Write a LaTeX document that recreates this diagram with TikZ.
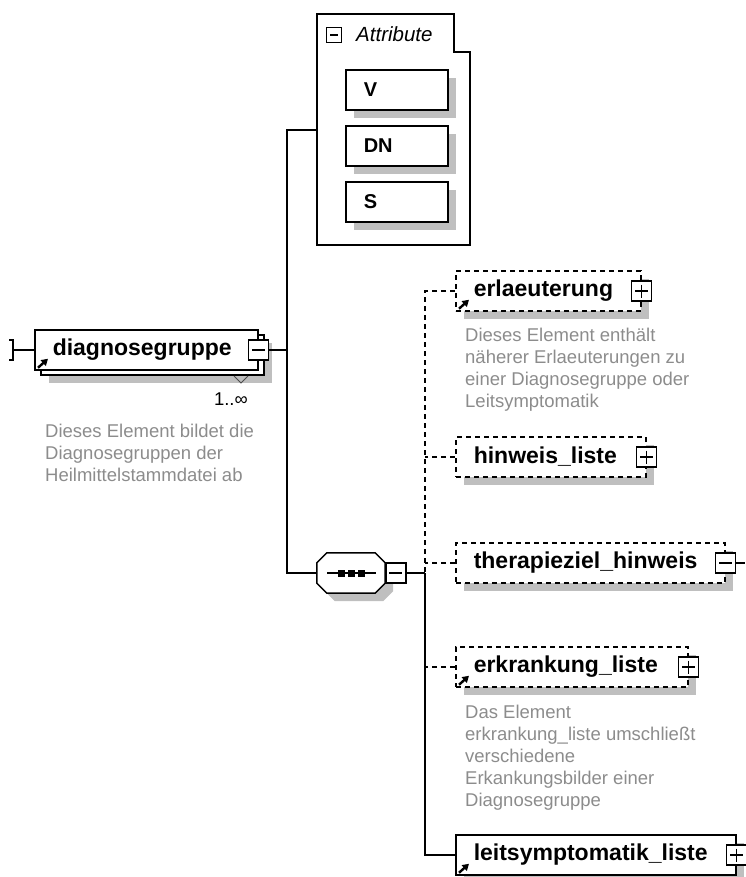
\documentclass[tikz,border=0pt]{standalone}
\usepackage{fontspec}
\setmainfont{Liberation Sans}
\usetikzlibrary{calc,shadows,arrows.meta}
\tikzset{
	elembox/.style={draw, line width=1.5pt, fill=white, minimum height=40pt, inner xsep=18pt, inner ysep=0pt, anchor=west, align=left, text width=#1, font=\fontsize{23}{25}\selectfont\bfseries},
	gshadow/.style={drop shadow={shadow xshift=8pt, shadow yshift=-8pt, fill=black!25, opacity=1}},
	elem/.style={elembox=#1, gshadow},
	optelem/.style={elem=#1, dash pattern=on 5pt off 4pt},
	btn/.style={draw, line width=1.5pt, fill=white, minimum width=20pt, minimum height=20pt, inner sep=0pt},
	minusbtn/.style={btn, path picture={\draw[line width=1.4pt] ([xshift=3.5pt]path picture bounding box.west) -- ([xshift=-3.5pt]path picture bounding box.east);}},
	plusbtn/.style={btn, path picture={\draw[line width=1.4pt] ([xshift=3.5pt]path picture bounding box.west) -- ([xshift=-3.5pt]path picture bounding box.east) ([yshift=-3.5pt]path picture bounding box.north) -- ([yshift=3.5pt]path picture bounding box.south);}},
	descr/.style={anchor=north west, align=left, text=black!45, inner sep=0pt, font=\fontsize{18.5}{22}\selectfont},
	conn/.style={line width=1.5pt},
	optconn/.style={conn, dash pattern=on 5pt off 4pt}
}
\def\refarrow#1{\draw[line width=2.4pt, -{Triangle[length=6.5pt,width=7.5pt]}] ([shift={(4,-3)}]#1.south west) -- ++(10,-9);}

\begin{document}
\begin{tikzpicture}[x=1pt,y=-1pt]
			%%%%% START %%%%%
			\useasboundingbox (0,0) rectangle (745,877);
			
			% attributes
			\draw[conn] (317,245) -- (317,14) -- (454,14) -- (454,52) -- (470,52) -- (470,245) -- cycle;
			\coordinate (attrin) at (317,130);
			\node[minusbtn, minimum width=15pt, minimum height=15pt] (attrbtn) at (334,35) {};
			\node[anchor=west, inner sep=0pt, font=\fontsize{20.5}{22}\selectfont\itshape] (attrlbl) at (356,34) {Attribute};
			\node[elem=66pt, font=\fontsize{20}{22}\selectfont\bfseries] (attrv) at (345,90) {V};
			\node[elem=66pt, font=\fontsize{20}{22}\selectfont\bfseries] (attrdn) at (345,146) {DN};
			\node[elem=66pt, font=\fontsize{20}{22}\selectfont\bfseries] (attrs) at (345,202) {S};
			
			% root element
			\draw[conn] (9,340) -- (13,340) -- (13,360) -- (9,360);
			\coordinate (root) at (13,350);
			\node[elem=187pt] (dgback) at (40,355) {};
			\node[elembox=187pt] (dg) at (34,350) {diagnosegruppe};
			\refarrow{dg}
			\node[minusbtn] (dgbtn) at (dg.east) {};
			\draw[line width=1pt, black!70] (234,376) -- (241,383) -- (248,376);
			\node[anchor=east, inner sep=0pt, font=\fontsize{18.5}{20}\selectfont] (dgocc) at (248,399) {1..∞};
			\node[descr] (dgdoc) at (45,424) {Dieses Element bildet die\\Diagnosegruppen der\\Heilmittelstammdatei ab};
			\draw[conn] (root) -- (dg);
			
			% sequence
			\coordinate (split) at (287,350);
			\node[minimum width=68pt, minimum height=40pt, inner sep=0pt] (seq) at (351,573) {};
			\draw[conn, fill=white, gshadow] ($(seq.north west)+(10,0)$) -- ($(seq.north east)+(-10,0)$) -- ($(seq.north east)+(0,10)$) -- ($(seq.south east)+(0,-10)$) -- ($(seq.south east)+(-10,0)$) -- ($(seq.south west)+(10,0)$) -- ($(seq.south west)+(0,-10)$) -- ($(seq.north west)+(0,10)$) -- cycle;
			\draw[conn] (327,573) -- (376,573);
			\foreach \dx in {-10,0,10}
				\fill ($(seq.center)+(\dx,0)$) +(-3.5,-3.5) rectangle +(3.5,3.5);
			\node[minusbtn, anchor=west] (seqbtn) at (seq.east) {};
			\coordinate (fork) at (425,573);
			\draw[conn] (dgbtn) -- (split);
			\draw[conn] (attrin) -| (split) |- (seq);
			\draw[conn] (seqbtn) -- (fork);
			
			% children
			\node[optelem=149pt] (erl) at (455,291) {erlaeuterung};
			\refarrow{erl}
			\node[plusbtn] (erlbtn) at (erl.east) {};
			\node[descr] (erldoc) at (465,328) {Dieses Element enthält\\näherer Erlaeuterungen zu\\einer Diagnosegruppe oder\\Leitsymptomatik};
			
			\node[optelem=154pt] (hin) at (455,457) {hinweis\_liste};
			\node[plusbtn] (hinbtn) at (hin.east) {};
			
			\node[optelem=233pt] (ther) at (455,563) {therapieziel\_hinweis};
			\node[minusbtn] (therbtn) at (ther.east) {};
			\coordinate (therout) at (745,563);
			\draw[conn] (therbtn) -- (therout);
			
			\node[optelem=196pt] (erk) at (455,667) {erkrankung\_liste};
			\refarrow{erk}
			\node[plusbtn] (erkbtn) at (erk.east) {};
			\node[descr] (erkdoc) at (465,705) {Das Element\\erkrankung\_liste umschließt\\verschiedene\\Erkankungsbilder einer\\Diagnosegruppe};
			
			\node[elem=244pt] (leit) at (455,855) {leitsymptomatik\_liste};
			\refarrow{leit}
			\node[plusbtn] (leitbtn) at (leit.east) {};
			
			\draw[optconn] (erl.west) -| (fork);
			\draw[optconn] (hin.west) -- (hin.west -| fork);
			\draw[optconn] (ther.west) -- (ther.west -| fork);
			\draw[optconn] (erk.west) -- (erk.west -| fork);
			\draw[conn] (fork) |- (leit);
			
			%%%%% END %%%%%
\end{tikzpicture}
\end{document}
